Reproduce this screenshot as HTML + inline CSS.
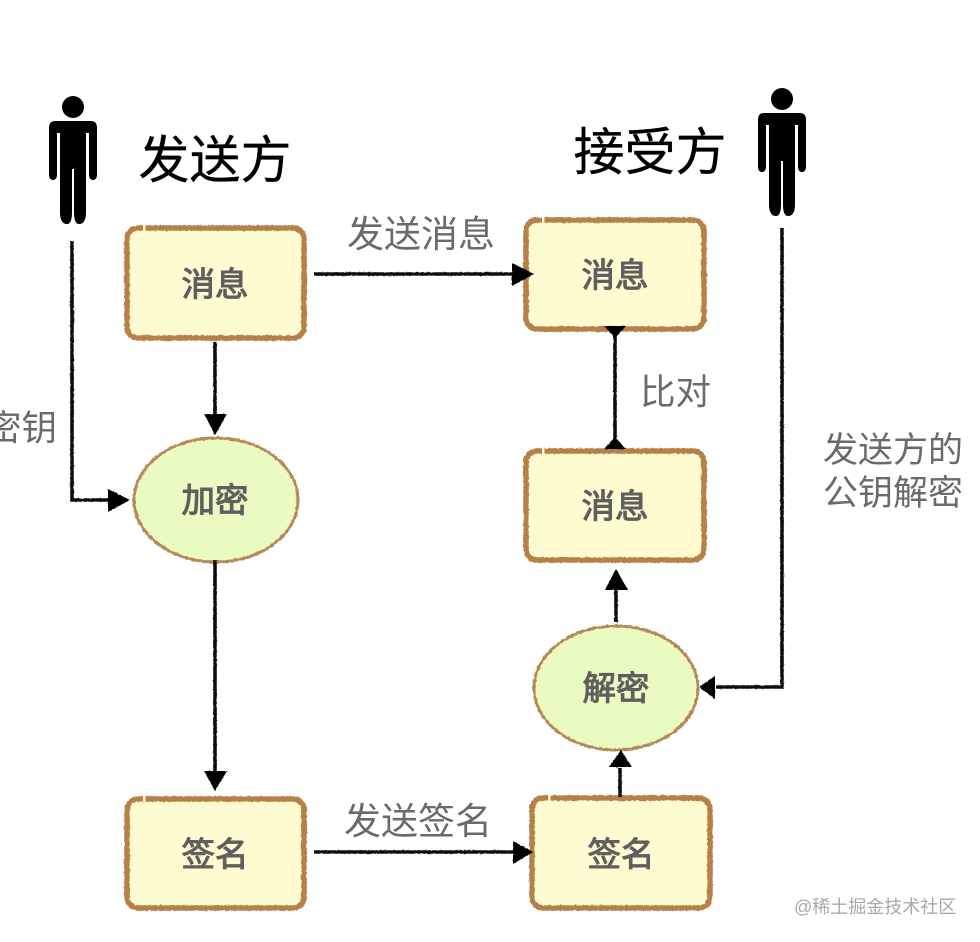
<!DOCTYPE html>
<html><head><meta charset="utf-8">
<style>
html,body{margin:0;padding:0;background:#fff;width:980px;height:942px;overflow:hidden}
svg{display:block}
text{font-family:"Liberation Sans","Noto Sans CJK SC",sans-serif}
.box{fill:#fffbd0;stroke:#b5814a;stroke-width:5.5}
.ell{fill:#e9fbc0;stroke:#b5895a;stroke-width:3}
.l{stroke:#111;stroke-width:3.6;fill:none}
.a{fill:#000}
.n{font-size:33.5px;font-weight:400;fill:#5f5f5f;stroke:#5f5f5f;stroke-width:1.1px;text-anchor:middle}
.e{font-size:37px;fill:#6a6a6a}
.t{font-size:51px;fill:#000;stroke:#000;stroke-width:.3px;text-anchor:middle}
</style></head><body>
<svg width="980" height="942" viewBox="0 0 980 942" xmlns="http://www.w3.org/2000/svg">
<defs>
<g id="p" fill="#000">
<circle cx="0" cy="11" r="11"/>
<path d="M-18 25H18Q24 25 24 32V78Q24 84 20 84Q16 84 16 78V37H13V116Q13 128 6 128Q1 128 1 116V73H-1V116Q-1 128 -6 128Q-13 128 -13 116V37H-16V78Q-16 84 -20 84Q-24 84 -24 78V32Q-24 25 -18 25Z"/>
</g>
<filter id="r" x="-5%" y="-5%" width="110%" height="110%" filterUnits="objectBoundingBox">
<feTurbulence type="fractalNoise" baseFrequency="0.35" numOctaves="2" seed="4" result="n"/>
<feDisplacementMap in="SourceGraphic" in2="n" scale="2.6" xChannelSelector="R" yChannelSelector="G"/>
</filter>
<filter id="rl" x="-20" y="-20" width="1020" height="982" filterUnits="userSpaceOnUse">
<feTurbulence type="fractalNoise" baseFrequency="0.45" numOctaves="2" seed="9" result="n"/>
<feDisplacementMap in="SourceGraphic" in2="n" scale="1.6" xChannelSelector="R" yChannelSelector="G"/>
</filter>
</defs>
<use href="#p" x="73" y="96"/>
<use href="#p" x="782" y="88"/>
<text class="t" x="215" y="178">发送方</text>
<text class="t" x="650" y="170">接受方</text>

<g filter="url(#r)">
<rect class="box" x="127" y="228" width="177" height="110" rx="11"/>
<rect class="box" x="526" y="220" width="178" height="109" rx="11"/>
<rect class="box" x="526" y="451" width="178" height="109" rx="11"/>
<rect class="box" x="127" y="799" width="177" height="109" rx="11"/>
<rect class="box" x="532" y="798" width="178" height="110" rx="11"/>
<ellipse class="ell" cx="216" cy="500" rx="82" ry="62"/>
<ellipse class="ell" cx="616" cy="688" rx="82" ry="62"/>
</g>
<g fill="#fdf6d8">
<rect x="143" y="224" width="2.5" height="7"/>
<rect x="542" y="216" width="2.5" height="7"/>
<rect x="542" y="447" width="2.5" height="7"/>
<rect x="143" y="795" width="2.5" height="7"/>
<rect x="548" y="794" width="2.5" height="7"/>
</g>

<g filter="url(#rl)">
<path class="l" d="M72 241V500H112"/>
<path class="a" d="M108 489L130 500L108 512Z"/>
<path class="l" d="M215 342V416"/>
<path class="a" d="M204 414H227L215 435Z"/>
<path class="l" d="M215 560V772"/>
<path class="a" d="M204 771H227L215 791Z"/>
<path class="l" d="M314 274H514"/>
<path class="a" d="M512 263L534 274L512 286Z"/>
<path class="l" d="M314 852H514"/>
<path class="a" d="M513 841L533 852L513 864Z"/>
<path class="l" d="M615 330V448"/>
<path class="a" d="M604 326H626L615 338Z"/>
<path class="a" d="M604 449H626L615 437Z"/>
<path class="l" d="M616 622V590"/>
<path class="a" d="M605 590H628L616 569Z"/>
<path class="l" d="M620 797V768"/>
<path class="a" d="M609 767H632L621 750Z"/>
<path class="l" d="M782 228V687H716"/>
<path class="a" d="M699 687L715 676V699Z"/>
</g>

<text class="n" x="215" y="296">消息</text>
<text class="n" x="615" y="287">消息</text>
<text class="n" x="615" y="518">消息</text>
<text class="n" x="215" y="512">加密</text>
<text class="n" x="616" y="700">解密</text>
<text class="n" x="215" y="866">签名</text>
<text class="n" x="621" y="866">签名</text>

<text class="e" x="347" y="247">发送消息</text>
<text class="e" x="344" y="834">发送签名</text>
<text class="e" x="640" y="404" style="font-size:35.5px">比对</text>
<text class="e" x="823" y="462" style="font-size:35px">发送方的</text>
<text class="e" x="823" y="505" style="font-size:35px">公钥解密</text>
<text class="e" x="-14" y="440" style="font-size:35.5px">密钥</text>
<text x="794" y="913" font-size="18" fill="#a8a8a8">@稀土掘金技术社区</text>
</svg>
</body></html>
